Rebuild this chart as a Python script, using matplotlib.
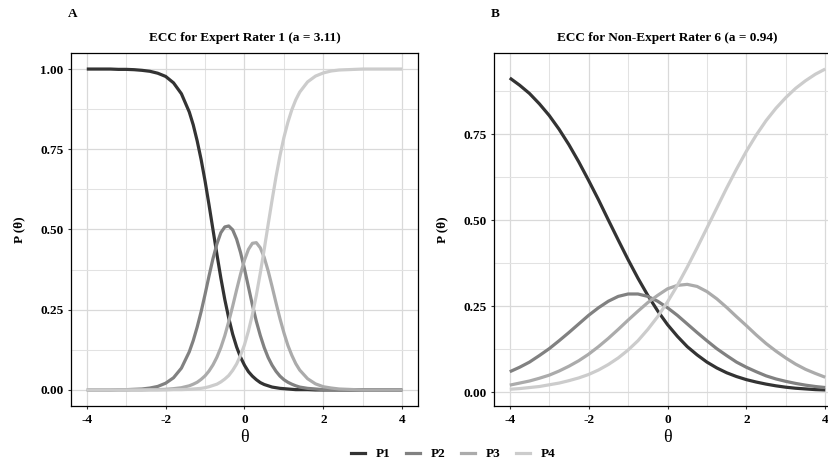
import matplotlib
matplotlib.use("Agg")
import matplotlib.pyplot as plt
from matplotlib.ticker import MultipleLocator, FormatStrFormatter
from matplotlib.lines import Line2D

plt.rcParams['font.family'] = ['Liberation Serif', 'DejaVu Serif']
plt.rcParams['axes.unicode_minus'] = False

# ---------------- data ----------------
categories = ["P1", "P2", "P3", "P4"]
colors = ["#333333", "#818181", "#ABABAB", "#CCCCCC"]

titles = ["ECC for Expert Rater 1 (a = 3.11)", "ECC for Non-Expert Rater 6 (a = 0.94)"]
tags = ["A", "B"]

theta_a = [-4.0, -3.8, -3.6, -3.4, -3.2, -3.0, -2.8, -2.6, -2.4, -2.2, -2.0, -1.8, -1.6,
           -1.4, -1.3, -1.2, -1.1, -1.0, -0.9, -0.8, -0.7, -0.6, -0.5, -0.4, -0.3, -0.2, -0.1,
           0.0, 0.1, 0.2, 0.3, 0.4, 0.5, 0.6, 0.7, 0.8, 0.9, 1.0, 1.1, 1.2, 1.3, 1.4,
           1.6, 1.8, 2.0, 2.2, 2.4, 2.6, 2.8, 3.0, 3.2, 3.4, 3.6, 3.8, 4.0]
p1_a = [1.000, 1.000, 1.000, 1.000, 0.999, 0.999, 0.998, 0.996, 0.993, 0.987, 0.977, 0.957, 0.923,
        0.866, 0.826, 0.776, 0.718, 0.651, 0.577, 0.500, 0.423, 0.349, 0.282, 0.224, 0.174, 0.134, 0.102,
        0.077, 0.057, 0.043, 0.032, 0.023, 0.017, 0.013, 0.009, 0.007, 0.005, 0.004, 0.003, 0.002, 0.001, 0.001,
        0.001, 0.000, 0.000, 0.000, 0.000, 0.000, 0.000, 0.000, 0.000, 0.000, 0.000, 0.000, 0.000]
p2_a = [0.000, 0.000, 0.000, 0.000, 0.001, 0.001, 0.002, 0.003, 0.006, 0.011, 0.021, 0.038, 0.068,
        0.119, 0.154, 0.196, 0.244, 0.298, 0.355, 0.409, 0.455, 0.490, 0.508, 0.511, 0.499, 0.470, 0.428,
        0.377, 0.321, 0.265, 0.214, 0.170, 0.132, 0.101, 0.077, 0.058, 0.043, 0.032, 0.024, 0.018, 0.013, 0.009,
        0.005, 0.003, 0.001, 0.001, 0.000, 0.000, 0.000, 0.000, 0.000, 0.000, 0.000, 0.000, 0.000]
p3_a = [0.000, 0.000, 0.000, 0.000, 0.000, 0.000, 0.000, 0.000, 0.001, 0.001, 0.002, 0.004, 0.007,
        0.013, 0.018, 0.024, 0.033, 0.044, 0.059, 0.078, 0.102, 0.132, 0.169, 0.213, 0.261, 0.312, 0.361,
        0.405, 0.438, 0.457, 0.459, 0.443, 0.413, 0.371, 0.322, 0.271, 0.222, 0.178, 0.139, 0.108, 0.082, 0.062,
        0.035, 0.019, 0.010, 0.006, 0.003, 0.002, 0.001, 0.000, 0.000, 0.000, 0.000, 0.000, 0.000]
p4_a = [0.000, 0.000, 0.000, 0.000, 0.000, 0.000, 0.000, 0.000, 0.000, 0.000, 0.000, 0.001, 0.001,
        0.002, 0.003, 0.004, 0.005, 0.007, 0.010, 0.014, 0.018, 0.025, 0.034, 0.045, 0.061, 0.081, 0.108,
        0.141, 0.184, 0.235, 0.295, 0.364, 0.438, 0.516, 0.592, 0.665, 0.730, 0.787, 0.834, 0.873, 0.904, 0.928,
        0.960, 0.978, 0.988, 0.994, 0.997, 0.998, 0.999, 1.000, 1.000, 1.000, 1.000, 1.000, 1.000]

theta_b = [-4.0, -3.75, -3.5, -3.25, -3.0, -2.75, -2.5, -2.25, -2.0, -1.75, -1.5,
           -1.25, -1.0, -0.75, -0.5, -0.25, 0.0, 0.25, 0.5, 0.75, 1.0,
           1.25, 1.5, 1.75, 2.0, 2.25, 2.5, 2.75, 3.0, 3.25, 3.5, 3.75, 4.0]
p1_b = [0.913, 0.892, 0.868, 0.838, 0.804, 0.764, 0.719, 0.669, 0.615, 0.559, 0.500,
        0.442, 0.385, 0.331, 0.281, 0.236, 0.196, 0.162, 0.132, 0.108, 0.087,
        0.070, 0.056, 0.045, 0.036, 0.029, 0.023, 0.018, 0.014, 0.011, 0.009, 0.007, 0.006]
p2_b = [0.059, 0.072, 0.087, 0.106, 0.126, 0.149, 0.173, 0.198, 0.223, 0.245, 0.264,
        0.278, 0.285, 0.285, 0.278, 0.264, 0.245, 0.223, 0.198, 0.173, 0.149,
        0.126, 0.106, 0.087, 0.072, 0.059, 0.047, 0.038, 0.031, 0.025, 0.020, 0.016, 0.013]
p3_b = [0.020, 0.026, 0.032, 0.040, 0.049, 0.061, 0.075, 0.091, 0.110, 0.132, 0.156,
        0.182, 0.209, 0.235, 0.260, 0.281, 0.300, 0.310, 0.313, 0.307, 0.292,
        0.271, 0.246, 0.219, 0.193, 0.166, 0.141, 0.119, 0.099, 0.081, 0.066, 0.054, 0.043]
p4_b = [0.008, 0.010, 0.013, 0.016, 0.021, 0.026, 0.033, 0.041, 0.051, 0.064, 0.080,
        0.099, 0.122, 0.149, 0.182, 0.219, 0.262, 0.310, 0.363, 0.419, 0.477,
        0.535, 0.593, 0.648, 0.700, 0.747, 0.789, 0.825, 0.856, 0.883, 0.905, 0.924, 0.939]

panels = [(theta_a, [p1_a, p2_a, p3_a, p4_a]), (theta_b, [p1_b, p2_b, p3_b, p4_b])]

# ---------------- figure ----------------
W, H = 829, 461
fig = plt.figure(figsize=(W / 100, H / 100), dpi=100)

ax_left_px = [71, 494]
ax_top_px, ax_bot_px, ax_w_px = 53, 406, 347
FS = 9.5

for i, (theta, series) in enumerate(panels):
    ax = fig.add_axes([ax_left_px[i] / W, 1 - ax_bot_px / H, ax_w_px / W, (ax_bot_px - ax_top_px) / H])
    for s, c in zip(series, colors):
        ax.plot(theta, s, color=c, lw=2.3, solid_capstyle='butt', solid_joinstyle='round', zorder=3)
    allv = [v for s in series for v in s]
    lo, hi = min(allv), max(allv)
    pad = 0.05 * (hi - lo)
    ax.set_ylim(lo - pad, hi + pad)
    ax.set_xlim(-4.4, 4.4)
    ax.xaxis.set_major_locator(MultipleLocator(2))
    ax.xaxis.set_minor_locator(MultipleLocator(1))
    ax.yaxis.set_major_locator(MultipleLocator(0.25))
    ax.yaxis.set_minor_locator(MultipleLocator(0.125))
    ax.yaxis.set_major_formatter(FormatStrFormatter('%.2f'))
    ax.grid(which='major', color='#d9d9d9', lw=0.9, zorder=0)
    ax.grid(which='minor', color='#e2e2e2', lw=0.75, zorder=0)
    ax.set_axisbelow(True)
    ax.tick_params(which='major', length=2.5, width=0.8, color='#333333',
                   labelsize=FS, pad=3)
    ax.tick_params(which='minor', length=0)
    for lab in ax.get_xticklabels() + ax.get_yticklabels():
        lab.set_fontweight('bold')
        lab.set_color('black')
    for sp in ax.spines.values():
        sp.set_color('black')
        sp.set_linewidth(0.9)
    ax.set_xlabel('θ', fontsize=13, labelpad=2.5)
    ax.set_ylabel('P (θ)', fontsize=FS, fontweight='bold', labelpad=11)
    ax.set_title(titles[i], fontsize=FS, fontweight='bold', pad=9)
    fig.text((ax_left_px[i] - 3) / W, 1 - 14 / H, tags[i], fontsize=FS,
             fontweight='bold', ha='left', va='center')

handles = [Line2D([0], [0], color=c, lw=2.3) for c in colors]
leg = fig.legend(handles, categories, loc='center', bbox_to_anchor=(453 / W, 1 - 454 / H),
                 ncol=4, frameon=False, handlelength=1.1, handletextpad=0.8,
                 columnspacing=1.15, prop={'weight': 'bold', 'size': FS})

fig.savefig("out.png", dpi=100)
